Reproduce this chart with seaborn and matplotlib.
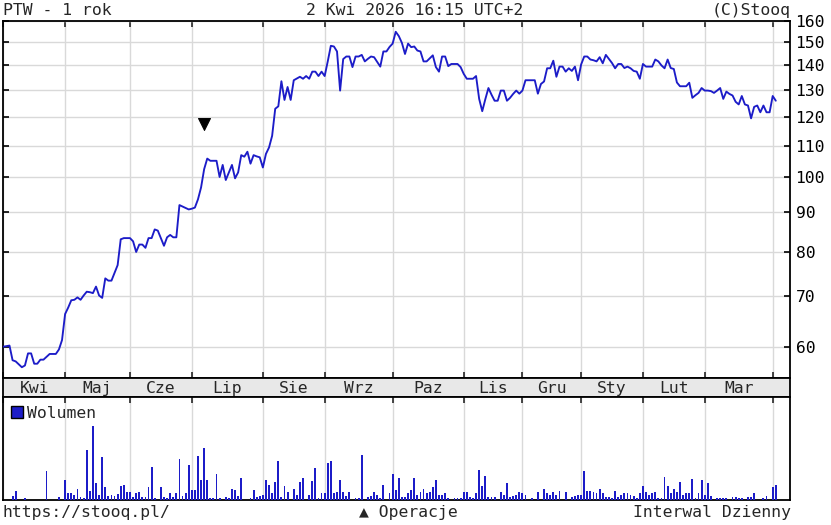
import numpy as np
import pandas as pd
import matplotlib
matplotlib.use("Agg")
import matplotlib.pyplot as plt
import seaborn as sns
from matplotlib.patches import Patch
from matplotlib.ticker import FixedLocator, NullLocator, NullFormatter

# ---------------- data ----------------
holidays = ['2025-04-18', '2025-04-21', '2025-05-01', '2025-06-19', '2025-08-15',
            '2025-11-11', '2025-12-24', '2025-12-25', '2025-12-26', '2025-12-31',
            '2026-01-01', '2026-01-06']
dates = pd.bdate_range('2025-04-01', '2026-04-02', freq='C', holidays=holidays)

close = [
    60.1, 60.2, 60.3, 57.7, 57.5, 57.0, 56.5, 56.8, 58.9, 58.9,
    57.1, 57.1, 57.8, 57.8, 58.3, 58.8, 58.8, 58.8, 59.6, 61.3,
    66.3, 67.6, 69.1, 69.2, 69.7, 69.2, 70.1, 70.9, 70.8, 70.6,
    72.0, 70.1, 69.6, 73.8, 73.3, 73.3, 75.0, 76.8, 83.0, 83.3,
    83.3, 83.3, 82.5, 79.9, 81.7, 81.7, 80.9, 83.3, 83.3, 85.5,
    85.2, 83.3, 81.4, 83.5, 84.1, 83.5, 83.5, 92.0, 91.6, 91.2,
    90.8, 91.0, 91.3, 93.6, 97.0, 102.5, 105.8, 105.1, 105.1, 105.1,
    100.1, 103.8, 99.2, 101.5, 103.8, 99.7, 101.5, 106.9, 106.4, 108.0,
    104.2, 106.9, 106.5, 106.2, 103.0, 107.3, 109.4, 113.3, 122.9, 123.8,
    133.5, 126.2, 131.2, 126.2, 133.9, 134.6, 135.3, 134.5, 135.6, 134.5,
    137.4, 137.4, 135.6, 137.4, 135.6, 141.7, 148.5, 148.2, 146.0, 129.8,
    142.7, 143.8, 143.8, 139.3, 143.8, 143.8, 144.5, 141.7, 142.8, 143.8,
    143.5, 141.5, 139.5, 146.0, 146.0, 148.0, 149.5, 154.9, 152.9, 149.8,
    144.9, 149.5, 147.9, 148.2, 146.4, 146.0, 141.7, 141.7, 143.0, 144.3,
    139.3, 137.4, 143.8, 143.8, 139.7, 140.6, 140.6, 140.6, 139.3, 136.5,
    134.5, 134.5, 134.5, 135.6, 126.6, 122.0, 126.5, 130.8, 128.2, 125.9,
    125.9, 129.8, 129.8, 125.9, 127.0, 128.5, 129.8, 128.6, 129.8, 133.9,
    133.9, 133.9, 133.9, 128.6, 132.4, 133.4, 138.8, 138.8, 142.0, 135.3,
    139.5, 139.5, 137.4, 138.8, 137.7, 139.5, 133.9, 140.4, 143.8, 143.8,
    142.5, 142.2, 141.7, 143.5, 140.9, 144.5, 142.7, 141.0, 138.8, 140.6,
    140.6, 138.9, 139.5, 138.8, 137.7, 137.4, 134.5, 140.6, 139.5, 139.5,
    139.5, 142.5, 141.7, 140.0, 138.8, 142.5, 138.9, 138.5, 133.0, 131.5,
    131.5, 131.5, 132.9, 127.0, 128.0, 128.9, 130.8, 129.8, 129.8, 129.6,
    128.9, 129.8, 130.8, 126.6, 129.4, 128.5, 127.9, 125.5, 124.5, 127.7,
    124.5, 124.1, 119.4, 123.6, 124.1, 121.6, 124.1, 121.6, 121.6, 127.7,
    125.9,
]

volume = [
    0, 0, 0, 13, 28, 0, 0, 5, 0, 0,
    0, 0, 0, 0, 88, 0, 0, 0, 10, 0,
    60, 20, 20, 16, 33, 10, 6, 150, 28, 223,
    51, 16, 128, 38, 13, 16, 13, 18, 43, 46,
    25, 25, 8, 20, 23, 10, 10, 38, 100, 6,
    0, 38, 8, 6, 20, 8, 20, 123, 13, 20,
    106, 30, 30, 133, 60, 155, 60, 6, 6, 78,
    6, 0, 10, 6, 33, 30, 13, 65, 0, 0,
    6, 30, 10, 13, 16, 60, 46, 20, 55, 118,
    10, 43, 25, 0, 33, 16, 55, 65, 0, 16,
    56, 96, 6, 20, 20, 110, 118, 20, 25, 60,
    25, 13, 25, 0, 6, 6, 136, 0, 8, 13,
    25, 16, 6, 46, 0, 20, 78, 30, 65, 10,
    10, 20, 30, 65, 16, 23, 33, 20, 23, 38,
    60, 16, 16, 20, 6, 0, 6, 6, 6, 25,
    25, 8, 6, 20, 91, 43, 73, 10, 10, 10,
    0, 25, 16, 51, 10, 13, 16, 25, 20, 14,
    0, 6, 0, 23, 0, 33, 20, 16, 25, 16,
    28, 0, 25, 0, 8, 13, 16, 16, 88, 26,
    28, 23, 20, 33, 20, 8, 10, 6, 28, 10,
    16, 20, 20, 16, 13, 6, 20, 43, 23, 16,
    20, 25, 6, 6, 70, 41, 20, 33, 25, 55,
    16, 20, 20, 63, 6, 20, 60, 16, 51, 13,
    0, 6, 6, 6, 6, 0, 8, 8, 6, 6,
    0, 10, 10, 20, 0, 0, 6, 13, 0, 38,
    46,
]

month_names = ['Kwi', 'Maj', 'Cze', 'Lip', 'Sie', 'Wrz', 'Paz', 'Lis', 'Gru',
               'Sty', 'Lut', 'Mar', 'Kwi']
price_ticks = [60, 70, 80, 90, 100, 110, 120, 130, 140, 150, 160]
op_date = '2025-07-07'
op_level = 117.5

title_left = 'PTW - 1 rok'
title_mid = '2 Kwi 2026 16:15 UTC+2'
title_right = '(C)Stooq'
foot_left = 'https://stooq.pl/'
foot_mid = '▲ Operacje'
foot_right = 'Interwal Dzienny'

# ---------------- style ----------------
sns.set_style('white')
plt.rcParams['font.family'] = ['DejaVu Sans Mono', 'DejaVu Sans']
FS = 11.8
BLUE = '#1c1cc8'
GRID = '#d9d9d9'

df = pd.DataFrame({'date': dates, 'close': close, 'volume': volume})
df['idx'] = np.arange(len(df))
month_start = df.groupby(df['date'].dt.to_period('M'))['idx'].min().tolist()

W, H = 831, 525
fig = plt.figure(figsize=(W / 100, H / 100), dpi=100)
fig.patch.set_facecolor('white')


def rect(x0, y0, x1, y1):
    return [x0 / W, 1 - y1 / H, (x1 - x0) / W, (y1 - y0) / H]


XL = (-0.1, len(df) + 3.6)

ax = fig.add_axes(rect(3, 21, 790, 378))
axm = fig.add_axes(rect(3, 378, 790, 397))
axv = fig.add_axes(rect(3, 397, 790, 500))

# price panel
sns.lineplot(data=df, x='idx', y='close', ax=ax, color=BLUE, lw=1.35, zorder=3)
op_idx = df.loc[df['date'] == pd.Timestamp(op_date), 'idx'].tolist()
sns.scatterplot(x=op_idx, y=[op_level], ax=ax, marker='v', s=75, color='black',
                edgecolor='black', zorder=4)
ax.set_yscale('log')
ax.set_ylim(54.7, 160)
ax.set_xlim(*XL)
ax.yaxis.set_major_locator(FixedLocator(price_ticks))
ax.yaxis.set_minor_locator(NullLocator())
ax.yaxis.set_minor_formatter(NullFormatter())
ax.set_yticklabels([str(v) for v in price_ticks])
ax.xaxis.set_major_locator(FixedLocator(month_start))
ax.xaxis.set_major_formatter(NullFormatter())
ax.tick_params(axis='y', which='major', left=True, right=True, labelleft=False,
               labelright=True, direction='in', length=4, width=1.2,
               labelsize=FS, pad=4, colors='black')
ax.tick_params(axis='x', which='major', top=True, bottom=True, direction='in',
               length=4, width=1.2, labelbottom=False)
ax.grid(True, color=GRID, lw=1)
ax.set_axisbelow(True)
ax.set_xlabel('')
ax.set_ylabel('')

# month band
axm.set_facecolor('#e8e8e8')
axm.set_xlim(*XL)
axm.set_ylim(0, 1)
axm.set_xticks([])
axm.set_yticks([])
edges = month_start + [len(df)]
for k, name in enumerate(month_names[:len(month_start) - 1]):
    mid = (edges[k] + edges[k + 1]) / 2
    axm.text(mid, 0.45, name, ha='center', va='center', fontsize=FS)

# volume panel
sns.barplot(data=df, x='idx', y='volume', ax=axv, native_scale=True, width=0.6,
            color=BLUE, saturation=1, errorbar=None, linewidth=0, zorder=3)
axv.set_xlim(*XL)
axv.set_ylim(0, 309)
axv.xaxis.set_major_locator(FixedLocator(month_start))
axv.xaxis.set_major_formatter(NullFormatter())
axv.set_yticks([])
axv.tick_params(axis='x', top=True, bottom=False, direction='in', length=4,
                width=1.2, labelbottom=False)
axv.grid(True, axis='x', color=GRID, lw=1)
axv.set_axisbelow(True)
axv.set_xlabel('')
axv.set_ylabel('')
axv.legend(handles=[Patch(facecolor=BLUE, edgecolor='black', label='Wolumen')],
           loc='upper left', bbox_to_anchor=(0.01, 0.915), frameon=False,
           fontsize=FS, handlelength=0.75, handleheight=0.75, handletextpad=0.25,
           borderaxespad=0.0, borderpad=0.0)

for a in (ax, axm, axv):
    for s in a.spines.values():
        s.set_color('black')
        s.set_linewidth(1.3)
        s.set_visible(True)

# header / footer
yt = 1 - 10.5 / H
yb = 1 - 513 / H
fig.text(3 / W, yt, title_left, ha='left', va='center', fontsize=FS)
fig.text(415 / W, yt, title_mid, ha='center', va='center', fontsize=FS)
fig.text(791 / W, yt, title_right, ha='right', va='center', fontsize=FS)
fig.text(3 / W, yb, foot_left, ha='left', va='center', fontsize=FS)
fig.text(408 / W, yb, foot_mid, ha='center', va='center', fontsize=FS)
fig.text(791 / W, yb, foot_right, ha='right', va='center', fontsize=FS)

fig.savefig('out.png', dpi=100)
